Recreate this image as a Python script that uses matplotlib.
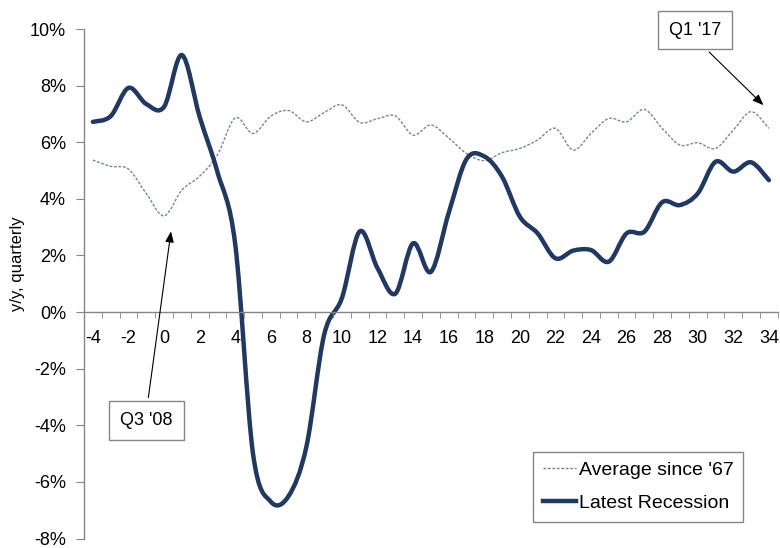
import numpy as np
import matplotlib
matplotlib.use('Agg')
import matplotlib.pyplot as plt
from matplotlib.path import Path
from matplotlib.patches import PathPatch
from matplotlib.lines import Line2D
from matplotlib.ticker import PercentFormatter, MultipleLocator

# quarters relative to recession start
quarters = list(range(-4, 35))

# y/y growth, %
latest_recession = [6.72, 6.92, 7.92, 7.35, 7.25, 9.08, 6.90, 4.95, 2.40, -5.00,
                    -6.70, -6.50, -4.76, -0.80, 0.50, 2.85, 1.55, 0.65, 2.43, 1.42,
                    3.50, 5.40, 5.50, 4.78, 3.37, 2.78, 1.90, 2.17, 2.19, 1.78,
                    2.78, 2.84, 3.88, 3.78, 4.19, 5.31, 4.96, 5.29, 4.66]
average_since_67 = [5.37, 5.15, 5.05, 4.19, 3.40, 4.31, 4.80, 5.55, 6.86, 6.31,
                    6.92, 7.12, 6.72, 7.05, 7.32, 6.70, 6.83, 6.93, 6.25, 6.61,
                    6.15, 5.60, 5.35, 5.63, 5.78, 6.08, 6.49, 5.72, 6.31, 6.84,
                    6.72, 7.16, 6.49, 5.90, 5.98, 5.78, 6.43, 7.08, 6.49]

navy = '#203864'
dotted = '#7a8599'
axis_grey = '#868686'

plt.rcParams['font.family'] = ['Liberation Sans', 'DejaVu Sans']
plt.rcParams['axes.unicode_minus'] = False


def smooth_path(xs, ys):
    # smoothed line through the points, like a spreadsheet "smoothed line"
    pts = np.column_stack([xs, ys]).astype(float)
    n = len(pts)
    verts = [pts[0]]
    codes = [Path.MOVETO]
    for i in range(n - 1):
        p0 = pts[i - 1] if i > 0 else pts[i]
        p1, p2 = pts[i], pts[i + 1]
        p3 = pts[i + 2] if i + 2 < n else pts[i + 1]
        verts += [p1 + (p2 - p0) / 6, p2 - (p3 - p1) / 6, p2]
        codes += [Path.CURVE4] * 3
    return Path(verts, codes)


fig = plt.figure(figsize=(7.8, 5.48), dpi=100)
ax = fig.add_axes([84 / 780, 1 - 538.5 / 548, (777.8 - 84) / 780, (538.5 - 29) / 548])

ax.add_patch(PathPatch(smooth_path(quarters, average_since_67), fill=False,
                       edgecolor=dotted, lw=1.0, ls=(0, (2, 1.2))))
ax.add_patch(PathPatch(smooth_path(quarters, latest_recession), fill=False,
                       edgecolor=navy, lw=3.2, capstyle='round', joinstyle='round'))

ax.set_xlim(-4.5, 34.5)
ax.set_ylim(-8, 10)

for s in ['top', 'right']:
    ax.spines[s].set_visible(False)
for s in ['left', 'bottom']:
    ax.spines[s].set_color(axis_grey)
    ax.spines[s].set_linewidth(1)
ax.spines['bottom'].set_position(('data', 0))

ax.yaxis.set_major_locator(MultipleLocator(2))
ax.yaxis.set_major_formatter(PercentFormatter(decimals=0))
ax.tick_params(axis='y', direction='out', length=6, color=axis_grey,
               labelsize=13, pad=7)

ax.set_xticks(range(-4, 35, 2))
ax.set_xticks(np.arange(-4.5, 35, 1), minor=True)
ax.tick_params(axis='x', which='major', length=0, labelsize=13, pad=13)
ax.tick_params(axis='x', which='minor', direction='out', length=4, color=axis_grey)

fig.text(18 / 780, 1 - 264 / 548, 'y/y, quarterly', rotation=90,
         ha='center', va='center', fontsize=12)

box = dict(boxstyle='square,pad=0.6', fc='white', ec=axis_grey, lw=1)
ax.annotate("Q3 '08", xy=(0.39, 2.85), xytext=(-0.99, -3.82), fontsize=13,
            ha='center', va='center', bbox=box, annotation_clip=False,
            arrowprops=dict(arrowstyle='-|>,head_length=0.5,head_width=0.2',
                            color='black', lw=0.8, relpos=(0.5, 1),
                            shrinkA=2, shrinkB=0))
ax.annotate("Q1 '17", xy=(33.69, 7.31), xytext=(29.87, 9.96), fontsize=13,
            ha='center', va='center', bbox=box, annotation_clip=False,
            arrowprops=dict(arrowstyle='-|>,head_length=0.5,head_width=0.2',
                            color='black', lw=0.8, relpos=(0.5, 0),
                            shrinkA=2, shrinkB=0))

handles = [Line2D([], [], color=dotted, lw=1.0, ls=(0, (2, 1.2))),
           Line2D([], [], color=navy, lw=3.2)]
leg = ax.legend(handles, ["Average since '67", 'Latest Recession'],
                loc='upper left', bbox_to_anchor=(533.3 / 780, 1 - 451.7 / 548),
                bbox_transform=fig.transFigure, borderaxespad=0, fontsize=14,
                handlelength=1.7, handletextpad=0.15, labelspacing=0.8,
                borderpad=0.5, fancybox=False, framealpha=1)
leg.get_frame().set_edgecolor(axis_grey)
leg.get_frame().set_linewidth(1)

fig.savefig('out.png', dpi=100)
